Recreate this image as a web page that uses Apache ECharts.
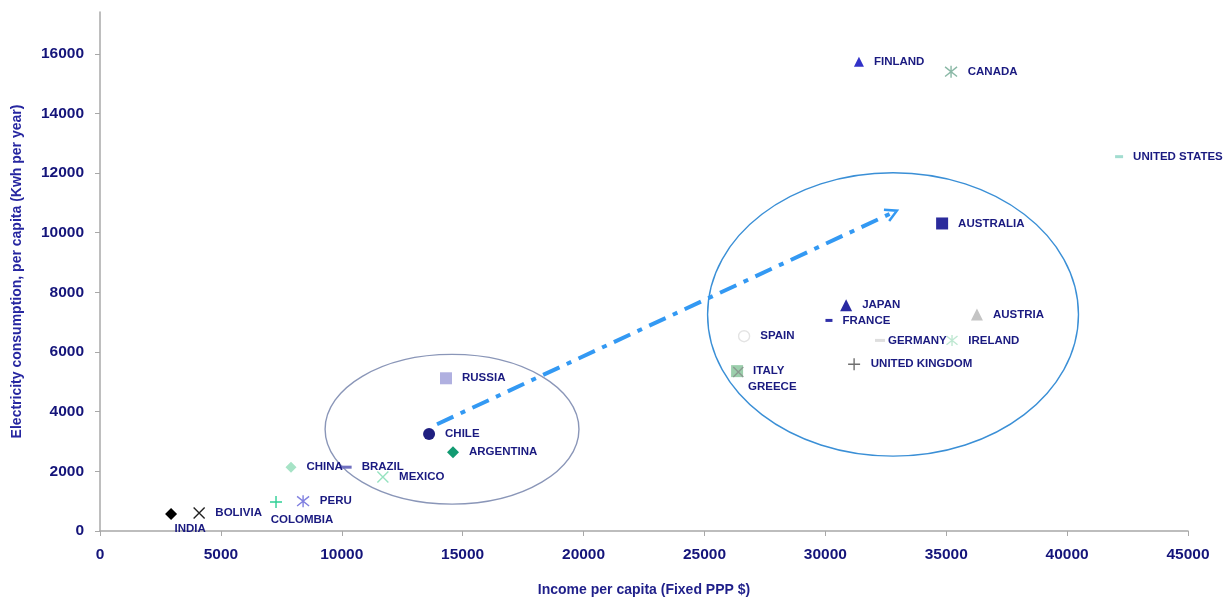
<!DOCTYPE html>
<html>
<head>
<meta charset="utf-8">
<script src="https://cdn.jsdelivr.net/npm/echarts@6/dist/echarts.min.js"></script>
<style>
  html, body { margin: 0; padding: 0; background: #ffffff; }
  #chart { width: 1227px; height: 600px; }
</style>
</head>
<body>
<div id="chart"></div>
<script>
// Income vs electricity consumption per capita, by country
const countries = ['INDIA', 'BOLIVIA', 'COLOMBIA', 'PERU', 'CHINA', 'BRAZIL', 'MEXICO', 'CHILE',
  'ARGENTINA', 'RUSSIA', 'FINLAND', 'CANADA', 'UNITED STATES', 'AUSTRALIA', 'JAPAN', 'FRANCE',
  'AUSTRIA', 'SPAIN', 'GERMANY', 'IRELAND', 'UNITED KINGDOM', 'ITALY', 'GREECE'];
const income = [2940, 4100, 7280, 8400, 7900, 10180, 11700, 13610,
  14600, 14310, 31390, 35200, 42150, 34830, 30860, 30150,
  36270, 26640, 32260, 35240, 31190, 26350, 26400];
const consumption = [570, 600, 970, 1000, 2140, 2140, 1810, 3250,
  2640, 5120, 15730, 15400, 12550, 10310, 7570, 7060,
  7260, 6530, 6390, 6390, 5590, 5360, 5330];

// Annotation shapes in data units: [centerX, centerY, radiusX, radiusY]
const ellipses = [
  [14560, 3410, 5250, 2510],
  [32800, 7260, 7670, 4750]
];
const ellipseColors = ['#8a96b8', '#3a8fd6'];
// Trend arrow: [fromX, fromY, toX, toY]
const trendArrow = [[13940, 3580, 32960, 10740]];

const X_PATH = 'path://M0,0L10,10M10,0L0,10';
const PLUS_PATH = 'path://M5,0L5,10M0,5L10,5';
const STAR_PATH = 'path://M1,1L9,9M9,1L1,9M5,0L5,10';

// Marker look per country: [symbol, size, fill, stroke]
const markerStyle = {
  'INDIA': ['diamond', 12, '#000000', null],
  'BOLIVIA': [X_PATH, 11, null, '#222222'],
  'COLOMBIA': [PLUS_PATH, 12, null, '#2fcf95'],
  'PERU': [STAR_PATH, 12, null, '#8080e0'],
  'CHINA': ['diamond', 11, '#a6e3c6', null],
  'BRAZIL': ['rect', [11, 3], '#7070c0', null],
  'MEXICO': [X_PATH, 11, null, '#96e2c0'],
  'CHILE': ['circle', 12, '#1f1f80', null],
  'ARGENTINA': ['diamond', 12, '#129b72', null],
  'RUSSIA': ['rect', 12, '#b0b0e0', null],
  'FINLAND': ['triangle', 10, '#3232c8', null],
  'CANADA': [STAR_PATH, 12, null, '#8ab8a6'],
  'UNITED STATES': ['rect', [8, 3], '#a2ddd0', null],
  'AUSTRALIA': ['rect', 12, '#2b2b9c', null],
  'JAPAN': ['triangle', 12, '#2a2aa2', null],
  'FRANCE': ['rect', [7, 3], '#3030a8', null],
  'AUSTRIA': ['triangle', 12, '#c4c4c4', null],
  'SPAIN': ['circle', 11, '#ffffff', '#e4e4e4'],
  'GERMANY': ['rect', [10, 3], '#dedede', null],
  'IRELAND': [STAR_PATH, 11, null, '#bfe8d2'],
  'UNITED KINGDOM': [PLUS_PATH, 12, null, '#707070'],
  'ITALY': ['rect', 12, '#9ccfac', null],
  'GREECE': [X_PATH, 10, null, '#8a9a90']
};

// Label placement where the default (right of marker) is not used
const labelPlacement = {
  'INDIA': { position: 'bottom', distance: 3, offset: [19, 0] },
  'COLOMBIA': { position: 'bottom', distance: 3, offset: [26, 2] },
  'GREECE': { position: 'bottom', distance: 3, offset: [34, 0] },
  'GERMANY': { distance: 3 },
  'FRANCE': { distance: 10 },
  'ITALY': { distance: 10 }
};

const labelColor = '#1a1a80';

const points = countries.map((name, i) => {
  const [symbol, size, fill, stroke] = markerStyle[name];
  const lbl = Object.assign({
    show: true, position: 'right', distance: 10, formatter: name,
    color: labelColor, fontSize: 11.5, fontWeight: 'bold',
    fontFamily: 'Liberation Sans, Arial, sans-serif'
  }, labelPlacement[name] || {});
  return {
    name: name,
    value: [income[i], consumption[i]],
    symbol: symbol,
    symbolSize: size,
    itemStyle: stroke
      ? { color: fill || 'transparent', borderColor: stroke, borderWidth: 1.4, opacity: 1 }
      : { color: fill, opacity: 1 },
    label: lbl
  };
});

const chart = echarts.init(document.getElementById('chart'));

const axisFont = { color: '#14147a', fontWeight: 'bold', fontSize: 15.5, fontFamily: 'Liberation Sans, Arial, sans-serif' };

chart.setOption({
  backgroundColor: '#ffffff',
  animation: false,
  grid: { left: 100, right: 39, top: 12, bottom: 69, containLabel: false, outerBoundsMode: 'none' },
  xAxis: {
    type: 'value', min: 0, max: 45000, interval: 5000,
    name: 'Income per capita (Fixed PPP $)',
    nameLocation: 'middle', nameGap: 52,
    nameTextStyle: { color: '#1f1f8a', fontWeight: 'bold', fontSize: 14, fontFamily: 'Liberation Sans, Arial, sans-serif' },
    axisLine: { show: true, lineStyle: { color: '#a8a8a8', width: 1.5 } },
    axisTick: { show: true, length: 5, lineStyle: { color: '#a8a8a8' } },
    axisLabel: Object.assign({ margin: 16, formatter: v => String(v) }, axisFont),
    splitLine: { show: false }
  },
  yAxis: {
    type: 'value', min: 0, max: 17400, interval: 2000,
    name: 'Electricity consumption, per capita (Kwh per year)',
    nameLocation: 'middle', nameGap: 76, nameRotate: 90,
    nameTextStyle: { color: '#2626a0', fontWeight: 'bold', fontSize: 14, fontFamily: 'Liberation Sans, Arial, sans-serif' },
    axisLine: { show: true, lineStyle: { color: '#a8a8a8', width: 1.5 } },
    axisTick: { show: true, length: 5, lineStyle: { color: '#a8a8a8' } },
    axisLabel: Object.assign({
      margin: 16, showMaxLabel: false,
      formatter: v => (v % 2000 === 0 ? String(v) : '')
    }, axisFont),
    splitLine: { show: false }
  },
  series: [
    {
      type: 'custom',
      name: 'groups',
      silent: true,
      z: 1,
      data: ellipses,
      renderItem: (params, api) => {
        const c = api.coord([api.value(0), api.value(1)]);
        const s = api.size([api.value(2), api.value(3)]);
        return {
          type: 'ellipse',
          shape: { cx: c[0], cy: c[1], rx: s[0], ry: s[1] },
          style: { fill: 'none', stroke: ellipseColors[params.dataIndex], lineWidth: 1.4 }
        };
      }
    },
    {
      type: 'custom',
      name: 'trend',
      silent: true,
      z: 2,
      data: trendArrow,
      renderItem: (params, api) => {
        const a = api.coord([api.value(0), api.value(1)]);
        const b = api.coord([api.value(2), api.value(3)]);
        const ang = Math.atan2(b[1] - a[1], b[0] - a[0]);
        const head = 13, spread = 0.5;
        const p1 = [b[0] - head * Math.cos(ang - spread), b[1] - head * Math.sin(ang - spread)];
        const p2 = [b[0] - head * Math.cos(ang + spread), b[1] - head * Math.sin(ang + spread)];
        const color = '#3399f3';
        return {
          type: 'group',
          children: [
            {
              type: 'line',
              shape: { x1: a[0], y1: a[1], x2: b[0] - 3 * Math.cos(ang), y2: b[1] - 3 * Math.sin(ang) },
              style: { stroke: color, lineWidth: 4, lineDash: [18, 8, 5, 8] }
            },
            {
              type: 'polyline',
              shape: { points: [p1, b, p2] },
              style: { fill: 'none', stroke: color, lineWidth: 2.5 }
            }
          ]
        };
      }
    },
    {
      type: 'scatter',
      name: 'countries',
      z: 3,
      itemStyle: { opacity: 1 },
      data: points
    }
  ]
});
</script>
</body>
</html>
